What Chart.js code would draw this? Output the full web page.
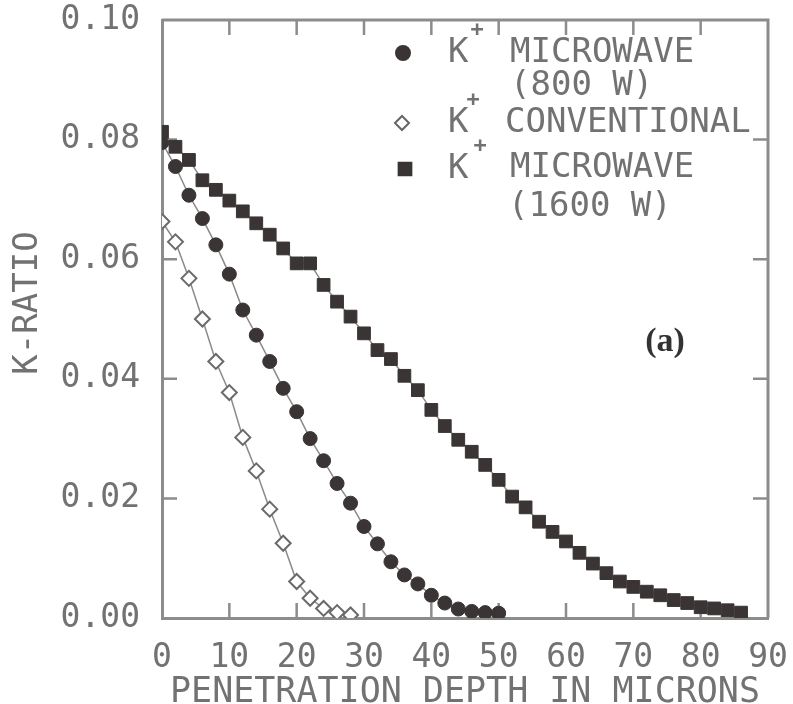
<!DOCTYPE html>
<html>
<head>
<meta charset="utf-8">
<script src="https://cdn.jsdelivr.net/npm/chart.js@4.4.1/dist/chart.umd.min.js"></script>
<style>
  html, body { margin: 0; padding: 0; background: #fff; }
  #wrap { width: 793px; height: 704px; }
</style>
</head>
<body>
<div id="wrap"><canvas id="kRatioChart" width="793" height="704"></canvas></div>
<script>
// depth in microns, one reading every 2 microns
const depth800 = [0, 2, 4, 6, 8, 10, 12, 14, 16, 18, 20, 22, 24, 26, 28, 30, 32, 34, 36, 38, 40, 42, 44, 46, 48, 50];
const kMicrowave800 = [0.0795, 0.0755, 0.0707, 0.0668, 0.0624, 0.0575, 0.0515, 0.0473, 0.0429, 0.0384, 0.0345, 0.0300, 0.0263,
  0.0225, 0.0192, 0.0153, 0.0124, 0.0094, 0.0072, 0.0057, 0.0038, 0.0025, 0.0015, 0.0011, 0.0009, 0.0008];

const depthConv = [0, 2, 4, 6, 8, 10, 12, 14, 16, 18, 20, 22, 24, 26, 28];
const kConventional = [0.0663, 0.0629, 0.0568, 0.0500, 0.0429, 0.0377, 0.0302, 0.0246, 0.0182, 0.0125, 0.0061, 0.0033, 0.0016, 0.0009, 0.0005];

const depth1600 = [0, 2, 4, 6, 8, 10, 12, 14, 16, 18, 20, 22, 24, 26, 28, 30, 32, 34, 36, 38, 40, 42, 44, 46, 48, 50,
  52, 54, 56, 58, 60, 62, 64, 66, 68, 70, 72, 74, 76, 78, 80, 82, 84, 86];
const kMicrowave1600 = [0.0813, 0.0788, 0.0766, 0.0732, 0.0716, 0.0698, 0.0680, 0.0660, 0.0641, 0.0618, 0.0593, 0.0593, 0.0557,
  0.0529, 0.0504, 0.0476, 0.0448, 0.0433, 0.0405, 0.0381, 0.0348, 0.0321, 0.0298, 0.0278, 0.0256, 0.0231, 0.0203, 0.0185,
  0.0161, 0.0144, 0.0128, 0.0109, 0.0091, 0.0075, 0.0061, 0.0052, 0.0044, 0.0038, 0.0030, 0.0025, 0.0018, 0.0016, 0.0013, 0.0009];

const xTicks = [0, 10, 20, 30, 40, 50, 60, 70, 80, 90];
const yTicks = [0, 0.02, 0.04, 0.06, 0.08, 0.10];

const monoFont = '"DejaVu Sans Mono", "Liberation Mono", monospace';
const textGrey = '#727272';
const axisGrey = '#8c8c8c';
const markDark = '#3a3434';
const lineGrey = '#8a8a8a';

function toPoints(xs, ys) {
  return xs.map((x, i) => ({ x: x, y: ys[i] }));
}

// frame on top/right and inward ticks on all four sides
const frameTicks = {
  id: 'frameTicks',
  beforeDatasetsDraw(chart) {
    const { ctx, chartArea: a, scales: { x, y } } = chart;
    const len = 15;
    ctx.save();
    ctx.strokeStyle = axisGrey;
    ctx.lineWidth = 3;
    ctx.beginPath();
    ctx.moveTo(a.left, a.top);
    ctx.lineTo(a.right, a.top);
    ctx.lineTo(a.right, a.bottom);
    ctx.stroke();
    ctx.lineWidth = 2.5;
    ctx.beginPath();
    xTicks.slice(1, -1).forEach(v => {
      const px = x.getPixelForValue(v);
      ctx.moveTo(px, a.bottom); ctx.lineTo(px, a.bottom - len);
      ctx.moveTo(px, a.top); ctx.lineTo(px, a.top + len);
    });
    yTicks.slice(1, -1).forEach(v => {
      const py = y.getPixelForValue(v);
      ctx.moveTo(a.left, py); ctx.lineTo(a.left + len, py);
      ctx.moveTo(a.right, py); ctx.lineTo(a.right - len, py);
    });
    ctx.stroke();
    ctx.restore();
  }
};

// legend block with K+ labels, y title and the panel letter
const keyText = {
  id: 'keyText',
  afterDraw(chart) {
    const ctx = chart.ctx;
    const rows = [
      { style: 'circle', mx: 403, my: 53, fill: markDark, stroke: markDark, r: 7, plusX: 477, plusY: 30, lines: [['MICROWAVE', 510, 53], ['(800 W)', 510, 86]] },
      { style: 'rectRot', mx: 402, my: 123, fill: '#ffffff', stroke: '#666666', r: 7, plusX: 473, plusY: 100, lines: [['CONVENTIONAL', 505, 123]] },
      { style: 'rect', mx: 405, my: 169, fill: markDark, stroke: markDark, r: 9, plusX: 480, plusY: 146, lines: [['MICROWAVE', 510, 168], ['(1600 W)', 508, 207]] }
    ];
    ctx.save();
    rows.forEach(row => {
      ctx.fillStyle = row.fill;
      ctx.strokeStyle = row.stroke;
      ctx.lineWidth = 2;
      Chart.helpers.drawPoint(ctx, { pointStyle: row.style, radius: row.r, borderWidth: 2, rotation: 0 }, row.mx, row.my);
      ctx.fillStyle = textGrey;
      ctx.textBaseline = 'middle';
      ctx.textAlign = 'left';
      ctx.font = '34px ' + monoFont;
      ctx.fillText('K', 448, row.my);
      row.lines.forEach(l => ctx.fillText(l[0], l[1], l[2]));
      ctx.font = 'bold 22px ' + monoFont;
      ctx.textAlign = 'center';
      ctx.fillText('+', row.plusX, row.plusY);
    });

    // y axis title, a little above the middle as in the original plot
    ctx.save();
    ctx.translate(28, 303);
    ctx.rotate(-Math.PI / 2);
    ctx.font = '34px ' + monoFont;
    ctx.fillStyle = textGrey;
    ctx.textAlign = 'center';
    ctx.textBaseline = 'middle';
    ctx.fillText('K-RATIO', 0, 0);
    ctx.restore();

    ctx.fillStyle = '#333333';
    ctx.font = 'bold 34px "Liberation Serif", "DejaVu Serif", serif';
    ctx.textAlign = 'center';
    ctx.textBaseline = 'middle';
    ctx.fillText('(a)', 665, 342);
    ctx.restore();
  }
};

const ctx = document.getElementById('kRatioChart').getContext('2d');

const lineChart = new Chart(ctx, {
  type: 'scatter',
  data: {
    datasets: [
      {
        label: 'K+ MICROWAVE (1600 W)',
        data: toPoints(depth1600, kMicrowave1600),
        showLine: true,
        borderColor: lineGrey,
        borderWidth: 1.5,
        pointStyle: 'rect',
        pointRadius: 9,
        pointBackgroundColor: markDark,
        pointBorderColor: markDark,
        pointBorderWidth: 1
      },
      {
        label: 'K+ MICROWAVE (800 W)',
        data: toPoints(depth800, kMicrowave800),
        showLine: true,
        borderColor: lineGrey,
        borderWidth: 1.5,
        pointStyle: 'circle',
        pointRadius: 7,
        pointBackgroundColor: markDark,
        pointBorderColor: markDark,
        pointBorderWidth: 1
      },
      {
        label: 'K+ CONVENTIONAL',
        data: toPoints(depthConv, kConventional),
        showLine: true,
        borderColor: lineGrey,
        borderWidth: 1.5,
        pointStyle: 'rectRot',
        pointRadius: 7.5,
        pointBackgroundColor: '#ffffff',
        pointBorderColor: '#6a6a6a',
        pointBorderWidth: 2
      }
    ]
  },
  options: {
    responsive: false,
    animation: false,
    layout: { padding: { top: 20, right: 25, left: 0, bottom: 0 } },
    plugins: {
      legend: { display: false },
      tooltip: { enabled: false }
    },
    scales: {
      x: {
        type: 'linear',
        min: 0,
        max: 90,
        afterFit: s => { s.height = 86; s.paddingLeft = 0; s.paddingRight = 0; },
        afterBuildTicks: s => { s.ticks = xTicks.map(v => ({ value: v })); },
        grid: { display: false, drawTicks: false },
        border: { display: true, color: axisGrey, width: 3 },
        ticks: {
          font: { family: monoFont, size: 33 },
          color: textGrey,
          padding: 21,
          maxRotation: 0,
          autoSkip: false
        },
        title: {
          display: true,
          text: 'PENETRATION DEPTH IN MICRONS',
          font: { family: monoFont, size: 35, lineHeight: 1 },
          color: textGrey,
          padding: { top: 0, bottom: -6 }
        }
      },
      y: {
        type: 'linear',
        min: 0,
        max: 0.1,
        afterFit: s => { s.width = 162; s.paddingTop = 0; s.paddingBottom = 0; },
        afterBuildTicks: s => { s.ticks = yTicks.map(v => ({ value: v })); },
        grid: { display: false, drawTicks: false },
        border: { display: true, color: axisGrey, width: 3 },
        ticks: {
          font: { family: monoFont, size: 33 },
          color: textGrey,
          padding: 22,
          callback: v => v.toFixed(2)
        }
      }
    }
  },
  plugins: [frameTicks, keyText]
});
</script>
</body>
</html>
